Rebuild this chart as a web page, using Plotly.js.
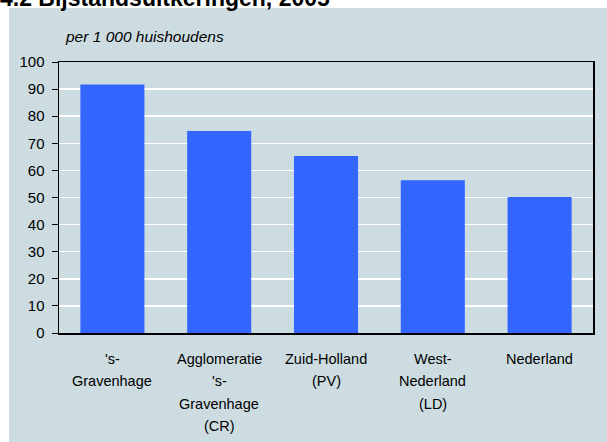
<!DOCTYPE html>
<html>
<head>
<meta charset="utf-8">
<script src="https://cdn.plot.ly/plotly-3.0.1.min.js"></script>
<style>html,body{margin:0;padding:0;background:#fff;}#chart{width:607px;height:442px;}</style>
</head>
<body>
<div id="chart"></div>
<script>
const categories = ["'s-<br>Gravenhage", "Agglomeratie<br>'s-<br>Gravenhage<br>(CR)", "Zuid-Holland<br>(PV)", "West-<br>Nederland<br>(LD)", "Nederland"];
const values = [91.7, 74.5, 65.3, 56.4, 50.2];
const yTicks = [0, 10, 20, 30, 40, 50, 60, 70, 80, 90, 100];
const titleText = "4.2 Bijstandsuitkeringen, 2005";
const unitText = "per 1 000 huishoudens";

const panel = '#CDDCE1';
const font = 'Arial, "Liberation Sans", sans-serif';

const labelAnnotations = [];
categories.forEach((c, ci) => {
  c.split('<br>').forEach((line, li) => {
    labelAnnotations.push({
      x: ci, xref: 'x', y: 0, yref: 'paper',
      text: line, showarrow: false,
      xanchor: 'center', yanchor: 'middle',
      yshift: -26 - li * 22.4,
      font: {family: font, size: 14.5, color: '#000'}
    });
  });
});

const data = [{
  type: 'bar',
  x: categories.map((c, i) => i),
  y: values,
  marker: {color: '#3366FF', line: {width: 0}},
  hoverinfo: 'none'
}];

const layout = {
  width: 607, height: 442,
  margin: {l: 59, r: 14, t: 62, b: 109},
  paper_bgcolor: '#ffffff',
  plot_bgcolor: panel,
  bargap: 0.4,
  showlegend: false,
  title: {
    text: '<b>' + titleText + '</b>',
    xref: 'container', x: 0.0, xanchor: 'left',
    yref: 'container', y: 0.986, yanchor: 'bottom',
    pad: {t: 0, b: 0, l: 0, r: 0},
    font: {family: font, size: 23, color: '#000'}
  },
  xaxis: {
    range: [-0.5, 4.5],
    showticklabels: false,
    ticks: '',
    showgrid: false,
    zeroline: false,
    showline: true, linecolor: '#000', linewidth: 1.5, mirror: true,
    fixedrange: true
  },
  yaxis: {
    range: [0, 100],
    tickvals: yTicks,
    ticktext: yTicks.map(String),
    ticks: 'outside', ticklen: 6, tickcolor: '#000', tickwidth: 1,
    ticklabelstandoff: 4,
    tickfont: {family: font, size: 15, color: '#000'},
    showgrid: true, gridcolor: '#ffffff', gridwidth: 1.5,
    zeroline: false,
    showline: true, linecolor: '#000', linewidth: 1.5, mirror: true,
    fixedrange: true
  },
  shapes: [{
    type: 'rect', xref: 'paper', yref: 'paper', layer: 'below',
    x0: (9 - 59) / 534, x1: 1.1, y0: -0.5, y1: (333 - 8) / 271,
    fillcolor: panel, line: {width: 0}
  }],
  annotations: [{
    text: '<i>' + unitText + '</i>',
    xref: 'paper', yref: 'paper',
    x: (63 - 59) / 534, y: (333 - 37) / 271,
    xanchor: 'left', yanchor: 'middle', showarrow: false,
    font: {family: font, size: 15.5, color: '#000'}
  }].concat(labelAnnotations)
};

Plotly.newPlot('chart', data, layout, {displayModeBar: false, staticPlot: true});
</script>
</body>
</html>
